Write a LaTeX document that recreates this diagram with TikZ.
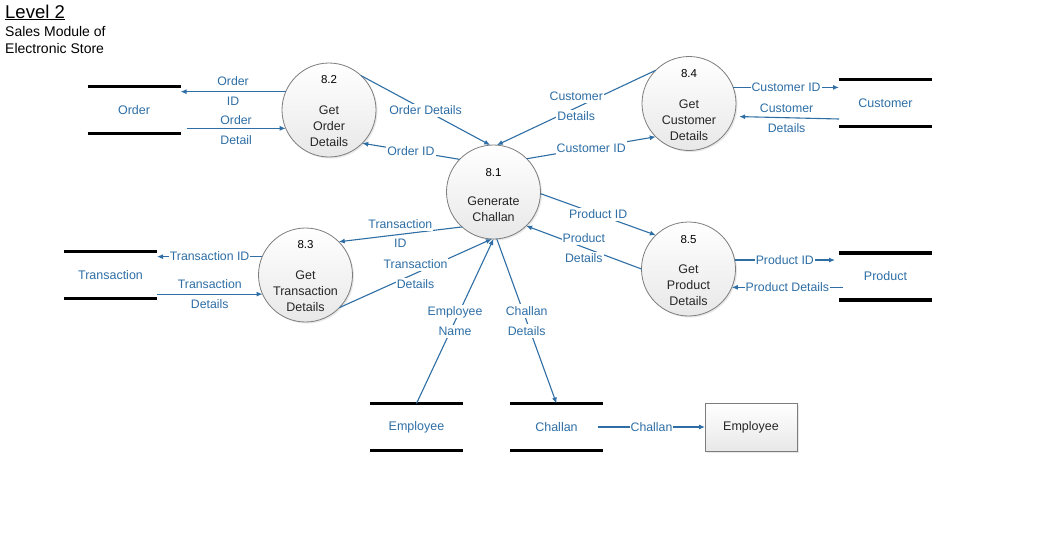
\documentclass[tikz,border=0pt]{standalone}
\usepackage{fontspec}
\setmainfont{Liberation Sans}
\usetikzlibrary{arrows.meta,shadows}
\definecolor{flowblue}{RGB}{46,110,165}
\definecolor{rimgray}{RGB}{125,125,125}

\begin{document}
\begin{tikzpicture}[x=1pt,y=-1pt,
  flow/.style={draw=flowblue,line width=1.1pt,-{Latex[length=6pt,width=5pt]}},
  lbl/.style={text=flowblue,fill=white,inner sep=1pt,text height=10pt,text depth=1.5pt,
    font=\fontsize{12.3}{14}\selectfont},
  bubble/.style={circle,draw=rimgray,line width=0.8pt,minimum size=94pt,inner sep=0pt,outer sep=0pt,
    top color=white,bottom color=black!9,
    drop shadow={opacity=0.18,shadow xshift=1.5pt,shadow yshift=-1.5pt}},
  num/.style={text=black,inner sep=0pt,font=\fontsize{11.5}{13}\selectfont},
  btext/.style={text=black!85,inner sep=0pt,align=center,font=\fontsize{12.5}{16}\selectfont},
  store/.style={minimum width=93pt,minimum height=47pt,inner sep=0pt,outer sep=0pt,
    text=flowblue,font=\fontsize{12.5}{14}\selectfont},
  storeline/.style={line width=3.2pt,black},
  entity/.style={rectangle,draw=rimgray,line width=0.8pt,minimum width=92pt,minimum height=48pt,
    outer sep=0pt,top color=white,bottom color=black!9,text=black!85,font=\fontsize{12.5}{14}\selectfont,
    drop shadow={opacity=0.18,shadow xshift=1.5pt,shadow yshift=-1.5pt}}]
\useasboundingbox (0,0) rectangle (1042,549);

%%% title %%%%
\node[anchor=base west,inner sep=0pt,font=\fontsize{18.5}{20}\selectfont] (ttl) at (5,18) {\underline{Level 2}};
\node[anchor=base west,inner sep=0pt,font=\fontsize{14}{16}\selectfont] (sub1) at (5,36) {Sales Module of};
\node[anchor=base west,inner sep=0pt,font=\fontsize{14}{16}\selectfont] (sub2) at (5,53) {Electronic Store};

%%% processes %%%%
\node[bubble] (p81) at (493.5,192) {};
\node[bubble] (p82) at (329,110) {};
\node[bubble] (p83) at (305.5,275) {};
\node[bubble] (p84) at (689,103.5) {};
\node[bubble] (p85) at (688.5,269) {};

\node[num] (n81) at ([yshift=19.5pt]p81.center) {8.1};
\node[btext] (t81) at ([yshift=-17.5pt]p81.center) {Generate\\Challan};
\node[num] (n82) at ([yshift=30.5pt]p82.center) {8.2};
\node[btext] (t82) at ([yshift=-16pt]p82.center) {Get\\Order\\Details};
\node[num] (n83) at ([yshift=30.5pt]p83.center) {8.3};
\node[btext] (t83) at ([yshift=-16pt]p83.center) {Get\\Transaction\\Details};
\node[num] (n84) at ([yshift=29.5pt]p84.center) {8.4};
\node[btext] (t84) at ([yshift=-16.5pt]p84.center) {Get\\Customer\\Details};
\node[num] (n85) at ([yshift=29.5pt]p85.center) {8.5};
\node[btext] (t85) at ([yshift=-16pt]p85.center) {Get\\Product\\Details};

%%% stores %%%%
\node[store] (sOrd) at (134,110) {Order};
\node[store] (sCust) at (885.5,103) {Customer};
\node[store] (sTrans) at (110.5,275) {Transaction};
\node[store] (sProd) at (885.5,276.5) {Product};
\node[store] (sEmp) at (416.5,427) {Employee};
\node[store] (sChal) at (556.5,427) {Challan};
\foreach \s in {sOrd,sCust,sTrans,sProd,sEmp,sChal}
  \draw[storeline] (\s.north west) -- (\s.north east) (\s.south west) -- (\s.south east);

\node[entity] (eEmp) at (751,427) {Employee};

%%% flows %%%%
%% order
\draw[flow] (p82.157) -- (sOrd.east |- p82.157)
  node[lbl,midway,yshift=10pt] (fa1) {Order} node[lbl,midway,yshift=-10pt] (fa2) {ID};
\draw[flow] ([xshift=6pt]sOrd.east |- p82.203) -- (p82.203)
  node[lbl,midway,yshift=8pt] (fb1) {Order} node[lbl,midway,yshift=-12pt] (fb2) {Detail};
\draw[flow] (p82.47) -- (p81.94) node[lbl,midway] (fc) {Order Details};
\draw[flow] (p81.136) -- (p82.-45) node[lbl,midway] (fd) {Order ID};

%% customer
\draw[flow] (p84.135) -- (p81.86)
  node[lbl,midway,yshift=11pt] (fe1) {Customer} node[lbl,midway,yshift=-9pt] (fe2) {Details};
\draw[flow] (p81.45) -- (p84.225) node[lbl,midway] (ff) {Customer ID};
\draw[flow] (p84.20) -- (sCust.west |- p84.20) node[lbl,midway] (fg) {Customer ID};
\draw[flow,shorten >=5pt] ([yshift=-16pt]sCust.west) -- (p84.-16)
  node[lbl,midway,yshift=9pt] (fh1) {Customer} node[lbl,midway,yshift=-11pt] (fh2) {Details};

%% transaction
\draw[flow] (p81.228) -- (p83.45)
  node[lbl,midway,yshift=10pt] (fi1) {Transaction} node[lbl,midway,yshift=-9pt] (fi2) {ID};
\draw[flow] (p83.-44) -- (p81.268)
  node[lbl,midway,yshift=9pt] (fj1) {Transaction} node[lbl,midway,yshift=-11pt] (fj2) {Details};
\draw[flow] (p83.157) -- (sTrans.east |- p83.157) node[lbl,midway] (fk) {Transaction ID};
\draw[flow] (sTrans.east |- p83.204) -- (p83.204)
  node[lbl,midway,yshift=10pt] (fl1) {Transaction} node[lbl,midway,yshift=-10pt] (fl2) {Details};

%% employee and challan
\draw[flow] (sEmp.north) -- (p81.270)
  node[lbl,midway,yshift=10pt] (fm1) {Employee} node[lbl,midway,yshift=-10pt] (fm2) {Name};
\draw[flow] (p81.274) -- (sChal.north)
  node[lbl,midway,yshift=10pt] (fn1) {Challan} node[lbl,midway,yshift=-10pt] (fn2) {Details};
\draw[flow] ([xshift=-5pt]sChal.east) -- (eEmp.west) node[lbl,midway] (fo) {Challan};

%% product
\draw[flow] (p81.-2) -- (p85.134) node[lbl,midway] (fp) {Product ID};
\draw[flow] (p85.180) -- (p81.-46)
  node[lbl,midway,yshift=9pt] (fq1) {Product} node[lbl,midway,yshift=-11pt] (fq2) {Details};
\draw[flow] (p85.11) -- ([xshift=-4pt]sProd.west |- p85.11) node[lbl,midway] (fr) {Product ID};
\draw[flow] ([xshift=4pt]sProd.west |- p85.-23) -- (p85.-23) node[lbl,midway] (fs) {Product Details};

\end{tikzpicture}
\end{document}
